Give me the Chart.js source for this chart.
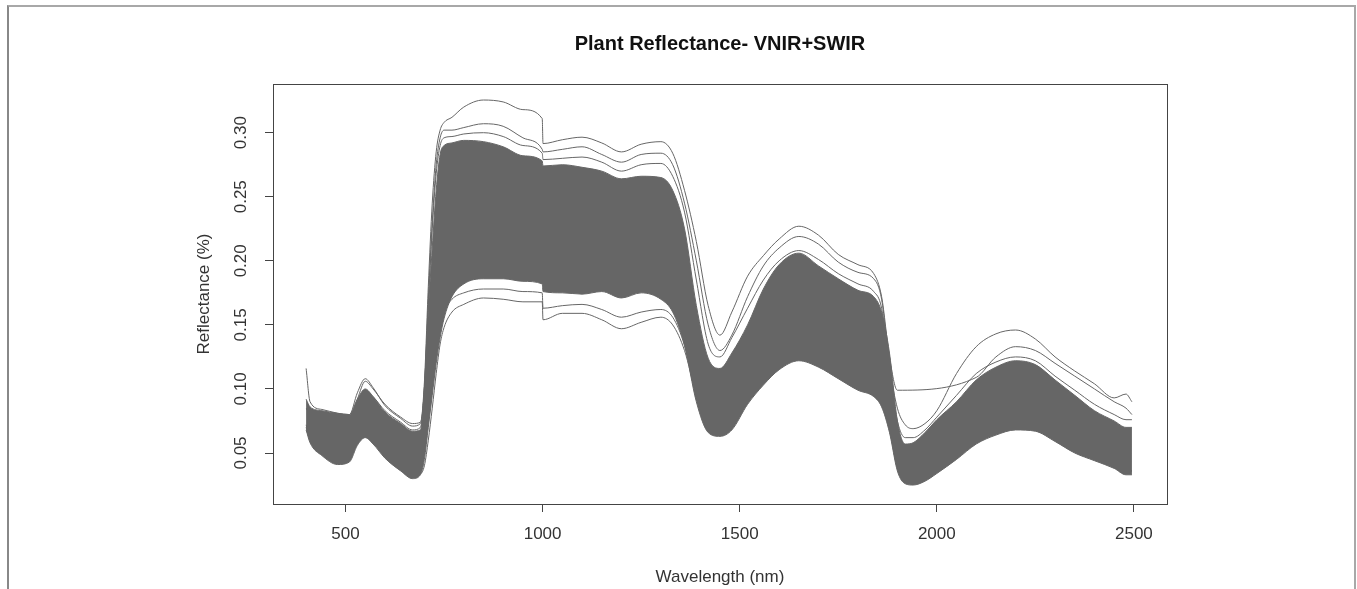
<!DOCTYPE html>
<html>
<head>
<meta charset="utf-8">
<script src="https://cdn.jsdelivr.net/npm/chart.js@4.4.1/dist/chart.umd.min.js"></script>
<style>
  body { margin: 0; background: #fff; }
  #wrap { position: relative; width: 1357px; height: 589px; overflow: hidden; }
  #frame { position: absolute; left: 7px; top: 5px; width: 1345px; height: 620px;
           border: 2px solid #a8a8a8; border-left-color: #888; border-bottom: none; pointer-events: none; }
  canvas { position: absolute; left: 0; top: 0; }
</style>
</head>
<body>
<div id="wrap">
  <canvas id="reflChart" width="1357" height="589"></canvas>
  <div id="frame"></div>
</div>
<script>
// wavelengths (nm), the 999/1001 pair carries the detector jump at 1000 nm
const wavelengths = [
  400, 410, 440, 480, 510, 530, 550, 570, 600, 640, 670, 690,
  700, 710, 720, 730, 740, 750, 770, 800, 850, 900, 950, 999,
  1001, 1050, 1100, 1150, 1200, 1250, 1300, 1330, 1360, 1390,
  1420, 1450, 1480, 1520, 1560, 1600, 1650, 1700, 1750, 1800, 1840, 1860,
  1880, 1900, 1920, 1940, 1970, 2000, 2050, 2100,
  2150, 2200, 2250, 2300, 2350, 2400, 2450, 2480, 2495
];

// lower and upper edge of the dense bundle of spectra
const bandLow = [
  0.068, 0.058, 0.048, 0.041, 0.043, 0.056, 0.062, 0.057, 0.046, 0.036, 0.030, 0.033,
  0.045, 0.070, 0.095, 0.120, 0.140, 0.155, 0.172, 0.182, 0.186, 0.186, 0.184, 0.182,
  0.176, 0.175, 0.174, 0.176, 0.171, 0.175, 0.170, 0.160, 0.134, 0.090,
  0.066, 0.063, 0.068, 0.088, 0.103, 0.115, 0.122, 0.117, 0.108, 0.099, 0.094, 0.086,
  0.066, 0.036, 0.026, 0.025, 0.028, 0.034, 0.045, 0.057,
  0.064, 0.068, 0.067, 0.059, 0.050, 0.044, 0.038, 0.033, 0.033
];
const bandHigh = [
  0.092, 0.086, 0.083, 0.081, 0.080, 0.092, 0.100, 0.094, 0.082, 0.073, 0.067, 0.068,
  0.100, 0.160, 0.210, 0.255, 0.283, 0.290, 0.292, 0.294, 0.293, 0.289, 0.282, 0.278,
  0.274, 0.275, 0.273, 0.270, 0.264, 0.266, 0.265, 0.255, 0.225, 0.165,
  0.124, 0.116, 0.128, 0.150, 0.178, 0.197, 0.206, 0.196, 0.186, 0.177, 0.172, 0.160,
  0.128, 0.075, 0.057, 0.058, 0.066, 0.076, 0.090, 0.107,
  0.117, 0.122, 0.119, 0.107, 0.095, 0.083, 0.075, 0.070, 0.070
];

// single spectra that stand out of the bundle
const specA = [
  0.116, 0.090, 0.084, 0.081, 0.080, 0.097, 0.108, 0.101, 0.087, 0.077, 0.071, 0.073,
  0.105, 0.180, 0.245, 0.285, 0.302, 0.308, 0.312, 0.320, 0.3255, 0.324, 0.318, 0.311,
  0.2915, 0.2945, 0.2965, 0.292, 0.285, 0.291, 0.293, 0.284, 0.255, 0.215,
  0.165, 0.142, 0.160, 0.188, 0.204, 0.217, 0.227, 0.220, 0.205, 0.197, 0.190, 0.172,
  0.125, 0.099, null, null, null, null, null, 0.109,
  0.125, 0.133, 0.130, 0.120, 0.110, 0.100, 0.090, 0.085, 0.080
];
const specB = [
  0.085, 0.082, 0.080, 0.078, 0.077, 0.092, 0.106, 0.100, 0.088, 0.078, 0.073, 0.074,
  0.100, 0.170, 0.230, 0.275, 0.296, 0.302, 0.302, 0.304, 0.307, 0.305, 0.296, 0.287,
  0.285, 0.287, 0.289, 0.283, 0.277, 0.283, 0.284, 0.275, 0.245, 0.200,
  0.150, 0.130, 0.142, 0.172, 0.196, 0.210, 0.219, 0.213, 0.199, 0.191, 0.186, 0.170,
  0.118, 0.085, 0.072, 0.069, 0.073, 0.083, 0.112, 0.133,
  0.143, 0.146, 0.139, 0.125, 0.114, 0.104, 0.093, 0.096, 0.090
];
const specC = [
  0.070, 0.060, 0.050, 0.044, 0.046, 0.058, 0.064, 0.060, 0.050, 0.040, 0.034, 0.034,
  0.040, 0.060, 0.085, 0.112, 0.135, 0.148, 0.160, 0.166, 0.171, 0.170, 0.168, 0.168,
  0.154, 0.159, 0.159, 0.154, 0.147, 0.152, 0.156, 0.150, 0.130, 0.095,
  0.070, 0.066, 0.072, 0.092, 0.108, 0.118, 0.124, 0.120, 0.111, 0.102, 0.097, 0.090,
  0.070, 0.040, 0.030, 0.029, 0.032, 0.038, 0.049, 0.060,
  0.066, 0.069, 0.068, 0.061, 0.053, 0.047, 0.041, 0.036, 0.036
];
const specD = [
  0.072, 0.062, 0.052, 0.046, 0.047, 0.060, 0.067, 0.062, 0.052, 0.043, 0.038, 0.040,
  0.050, 0.075, 0.100, 0.126, 0.148, 0.160, 0.170, 0.175, 0.178, 0.178, 0.176, 0.175,
  0.163, 0.165, 0.166, 0.162, 0.156, 0.160, 0.162, 0.156, 0.134, 0.095,
  0.068, 0.065, 0.070, 0.090, 0.106, 0.117, 0.123, 0.119, 0.110, 0.101, 0.096, 0.088,
  0.068, 0.038, 0.028, 0.027, 0.030, 0.036, 0.047, 0.059,
  0.066, 0.070, 0.069, 0.062, 0.053, 0.046, 0.040, 0.036, 0.036
];
const specE = [
  0.084, 0.083, 0.081, 0.079, 0.078, 0.090, 0.099, 0.094, 0.083, 0.074, 0.068, 0.070,
  0.100, 0.165, 0.225, 0.268, 0.290, 0.296, 0.297, 0.299, 0.300, 0.297, 0.290, 0.284,
  0.279, 0.280, 0.281, 0.277, 0.270, 0.275, 0.276, 0.266, 0.238, 0.185,
  0.135, 0.125, 0.140, 0.163, 0.185, 0.200, 0.208, 0.201, 0.190, 0.182, 0.176, 0.163,
  0.115, 0.075, 0.062, 0.062, 0.068, 0.078, 0.095, 0.112,
  0.121, 0.125, 0.122, 0.110, 0.099, 0.088, 0.080, 0.076, 0.076
];

const xTicks = [500, 1000, 1500, 2000, 2500];
const yTicks = [0.05, 0.10, 0.15, 0.20, 0.25, 0.30];

const grey = '#666666';
const font = 'Liberation Sans, Arial, sans-serif';
const toPoints = s => wavelengths.map((w, i) => ({ x: w, y: s[i] }));

function lineSet(s) {
  return {
    data: toPoints(s),
    borderColor: grey,
    borderWidth: 1,
    pointRadius: 0,
    fill: false,
    spanGaps: true,
    cubicInterpolationMode: 'monotone'
  };
}

// box round the plot area, like R's box()
const plotBox = {
  id: 'plotBox',
  afterDraw(chart) {
    const a = chart.chartArea;
    const ctx = chart.ctx;
    ctx.save();
    ctx.strokeStyle = '#444';
    ctx.lineWidth = 1;
    ctx.strokeRect(a.left + 0.5, a.top + 0.5, a.right - a.left, a.bottom - a.top);
    ctx.restore();
  }
};

const ctx = document.getElementById('reflChart').getContext('2d');
new Chart(ctx, {
  type: 'line',
  data: {
    datasets: [
      lineSet(bandLow),
      Object.assign(lineSet(bandHigh), { fill: '-1', backgroundColor: grey }),
      lineSet(specC),
      lineSet(specD),
      lineSet(specE),
      lineSet(specB),
      lineSet(specA)
    ]
  },
  options: {
    responsive: false,
    devicePixelRatio: 1,
    animation: false,
    layout: { padding: { left: 0, right: 190, top: 0, bottom: 0 } },
    plugins: {
      legend: { display: false },
      tooltip: { enabled: false },
      title: {
        display: true,
        fullSize: false,
        text: 'Plant Reflectance- VNIR+SWIR',
        color: '#111',
        font: { family: font, size: 20, weight: 'bold' },
        padding: { top: 32.7, bottom: 27.3 }
      }
    },
    scales: {
      x: {
        type: 'linear',
        min: 316,
        max: 2584,
        afterFit: s => { s.height = 85; },
        afterBuildTicks: s => { s.ticks = xTicks.map(v => ({ value: v })); },
        grid: { drawOnChartArea: false, drawTicks: true, tickLength: 8, color: '#444' },
        border: { display: true, color: '#444' },
        ticks: {
          autoSkip: false,
          maxRotation: 0,
          padding: 12,
          color: '#333',
          font: { family: font, size: 17 },
          callback: v => String(v)
        },
        title: {
          display: true,
          text: 'Wavelength (nm)',
          color: '#333',
          font: { family: font, size: 17 },
          padding: { top: 0, bottom: 1.8 }
        }
      },
      y: {
        min: 0.0102,
        max: 0.338,
        afterFit: s => { s.width = 273; },
        afterBuildTicks: s => { s.ticks = yTicks.map(v => ({ value: v })); },
        grid: { drawOnChartArea: false, drawTicks: true, tickLength: 8, color: '#444' },
        border: { display: true, color: '#444' },
        ticks: {
          autoSkip: false,
          minRotation: 90,
          maxRotation: 90,
          crossAlign: 'center',
          padding: 7.5,
          color: '#333',
          font: { family: font, size: 17 },
          callback: v => v.toFixed(2)
        },
        title: {
          display: true,
          text: 'Reflectance (%)',
          color: '#333',
          font: { family: font, size: 17 },
          padding: { top: 193.8, bottom: 0 }
        }
      }
    }
  },
  plugins: [plotBox]
});
</script>
</body>
</html>
